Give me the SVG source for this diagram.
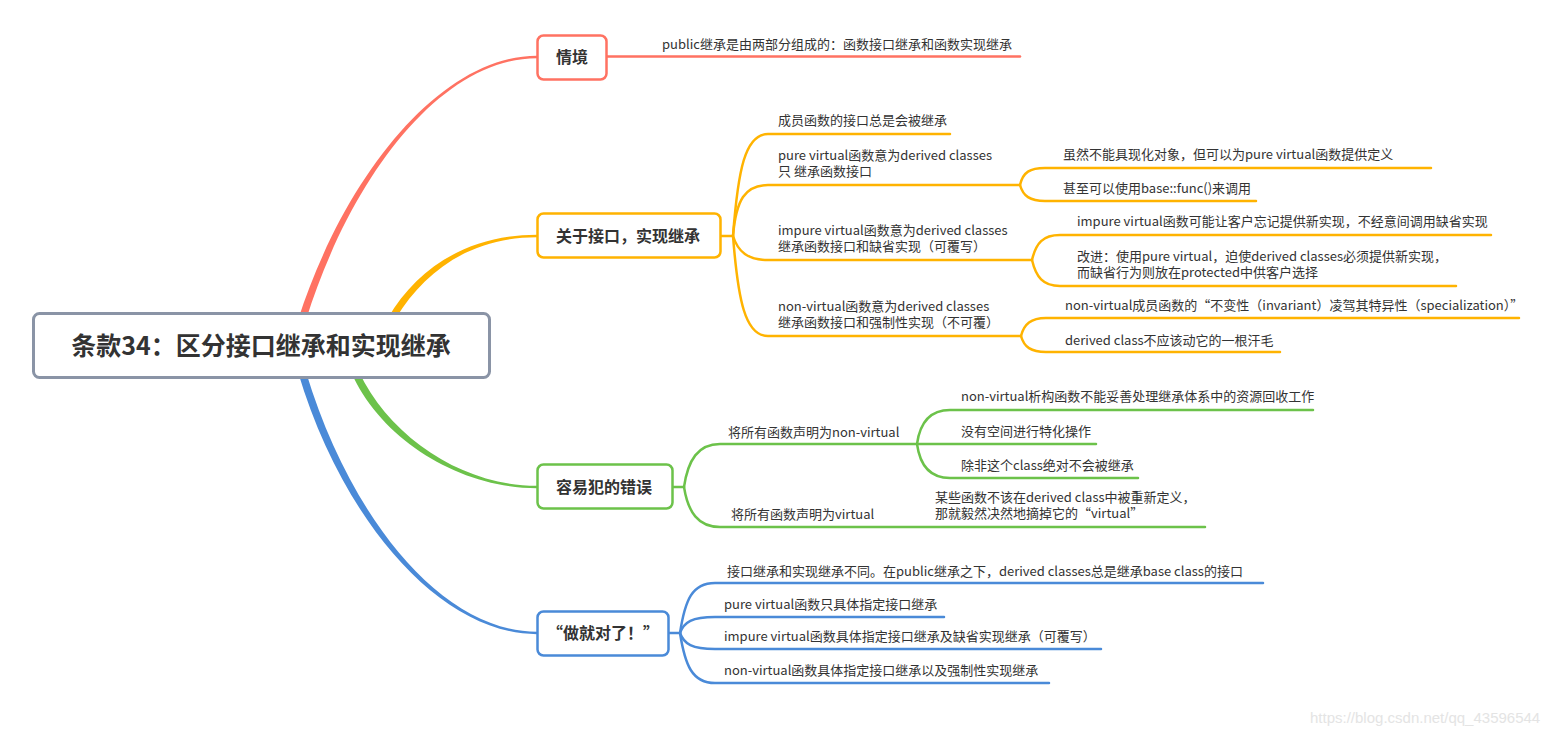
<svg xmlns="http://www.w3.org/2000/svg" width="1563" height="737" viewBox="0 0 1563 737">
<style>
.bg{fill:#ffffff}
.c{fill:none;stroke-width:2.5;stroke-linecap:round;stroke-linejoin:round}
.r{stroke:#ff7262}.y{stroke:#ffb300}.g{stroke:#6cc24a}.b{stroke:#4a8ad8}
.t{font-family:"Noto Sans CJK SC","Noto Sans",sans-serif;font-size:13px;fill:#333333}
.n{font-family:"Noto Sans CJK SC","Noto Sans",sans-serif;font-size:16px;font-weight:bold;fill:#333333;text-anchor:middle}
.box{fill:#ffffff;stroke-width:2.5}
.wm{font-family:"Liberation Sans",Arial,sans-serif;font-size:15px;fill:#e4e4e4}
</style>
<rect class="bg" x="0" y="0" width="1563" height="737"/>
<g id="connectors">
  <!-- main tapered branches -->
  <path fill="#ff7262" d="M298,320 C344,177 440,55.8 537,55.8 L537,58.2 C440,58.2 350,179 306,320 Z"/>
  <path fill="#ffb300" d="M388,318 C417,268 468,234.8 537,234.8 L537,237.2 C470,237.2 424,272 396,318 Z"/>
  <path fill="#6cc24a" d="M351,372 C381,440 460,488.2 537,488.2 L537,485.8 C462,485.8 390,437 359,372 Z"/>
  <path fill="#4a8ad8" d="M298,372 C342,520 440,634.2 537,634.2 L537,631.8 C442,631.8 350,518 306,372 Z"/>
  <!-- red -->
  <path class="c r" d="M607,56.5 L1020,56.5"/>
  <!-- yellow -->
  <path class="c y" d="M721,236 L733,236"/>
  <path class="c y" d="M733,236 C738,170 745,134 768,134 L950,134"/>
  <path class="c y" d="M733,236 C736,200 745,185 768,185 L1020,185"/>
  <path class="c y" d="M733,236 C738,252 748,260 768,260 L1032,260"/>
  <path class="c y" d="M733,236 C738,300 745,336 768,336 L1021,336"/>
  <path class="c y" d="M1020,185 C1023,172 1030,168 1045,168 L1431,168"/>
  <path class="c y" d="M1020,185 C1023,196 1030,201 1045,201 L1256,201"/>
  <path class="c y" d="M1032,260 C1036,243 1043,235 1060,235 L1491,235"/>
  <path class="c y" d="M1032,260 C1036,277 1043,286 1060,286 L1456,286"/>
  <path class="c y" d="M1021,336 C1024,324 1031,318 1046,318 L1519,318"/>
  <path class="c y" d="M1021,336 C1024,347 1031,352 1046,352 L1280,352"/>
  <!-- green -->
  <path class="c g" d="M673,487 L684,487"/>
  <path class="c g" d="M684,487 C688,460 698,444 720,444 L917,444"/>
  <path class="c g" d="M684,487 C688,512 698,527 720,527 L1205,527"/>
  <path class="c g" d="M917,444 C920,422 930,410 950,410 L1313,410"/>
  <path class="c g" d="M917,444 L1096,444"/>
  <path class="c g" d="M917,444 C920,466 930,478 950,478 L1138,478"/>
  <!-- blue -->
  <path class="c b" d="M669,633 L680,633"/>
  <path class="c b" d="M680,633 C685,600 692,583 715,583 L1263,583"/>
  <path class="c b" d="M680,633 C684,622 692,617 715,617 L944,617"/>
  <path class="c b" d="M680,633 C684,644 692,649 715,649 L1101,649"/>
  <path class="c b" d="M680,633 C685,665 692,683 715,683 L1049,683"/>
</g>
<g id="root">
  <rect x="33.5" y="313.5" width="456" height="64" rx="6" fill="#ffffff" stroke="#8a94a6" stroke-width="3"/>
  <text x="261" y="355" font-family="'Noto Sans CJK SC','Noto Sans',sans-serif" font-size="25" font-weight="bold" fill="#333333" text-anchor="middle">条款34：区分接口继承和实现继承</text>
</g>
<g id="n-qingjing">
  <rect class="box" x="537.5" y="35.5" width="69" height="44" rx="6" stroke="#ff7262"/>
  <text class="n" x="572" y="63">情境</text>
</g>
<g id="n-qingjing-1"><text class="t" x="662" y="49">public继承是由两部分组成的：函数接口继承和函数实现继承</text></g>
<g id="n-jiekou">
  <rect class="box" x="537.5" y="213.5" width="183" height="44" rx="6" stroke="#ffb300"/>
  <text class="n" x="628" y="242">关于接口，实现继承</text>
</g>
<g id="n-jk-1"><text class="t" x="778" y="125">成员函数的接口总是会被继承</text></g>
<g id="n-jk-2"><text class="t" x="778" y="160">pure virtual函数意为derived classes</text><text class="t" x="778" y="176">只 继承函数接口</text></g>
<g id="n-jk-2-1"><text class="t" x="1063" y="159">虽然不能具现化对象，但可以为pure virtual函数提供定义</text></g>
<g id="n-jk-2-2"><text class="t" x="1063" y="193">甚至可以使用base::func()来调用</text></g>
<g id="n-jk-3"><text class="t" x="778" y="235">impure virtual函数意为derived classes</text><text class="t" x="778" y="251">继承函数接口和缺省实现（可覆写）</text></g>
<g id="n-jk-3-1"><text class="t" x="1077" y="226">impure virtual函数可能让客户忘记提供新实现，不经意间调用缺省实现</text></g>
<g id="n-jk-3-2"><text class="t" x="1077" y="261">改进：使用pure virtual，迫使derived classes必须提供新实现，</text><text class="t" x="1077" y="277">而缺省行为则放在protected中供客户选择</text></g>
<g id="n-jk-4"><text class="t" x="778" y="311">non-virtual函数意为derived classes</text><text class="t" x="778" y="327">继承函数接口和强制性实现（不可覆）</text></g>
<g id="n-jk-4-1"><text class="t" x="1065" y="310">non-virtual成员函数的“不变性（invariant）凌驾其特异性（specialization）”</text></g>
<g id="n-jk-4-2"><text class="t" x="1065" y="345">derived class不应该动它的一根汗毛</text></g>
<g id="n-cuowu">
  <rect class="box" x="537.5" y="464.5" width="135" height="44" rx="6" stroke="#6cc24a"/>
  <text class="n" x="604" y="493">容易犯的错误</text>
</g>
<g id="n-cw-1"><text class="t" x="728" y="437">将所有函数声明为non-virtual</text></g>
<g id="n-cw-1-1"><text class="t" x="961" y="401">non-virtual析构函数不能妥善处理继承体系中的资源回收工作</text></g>
<g id="n-cw-1-2"><text class="t" x="961" y="436">没有空间进行特化操作</text></g>
<g id="n-cw-1-3"><text class="t" x="961" y="470">除非这个class绝对不会被继承</text></g>
<g id="n-cw-2"><text class="t" x="731" y="519">将所有函数声明为virtual</text></g>
<g id="n-cw-2-1"><text class="t" x="935" y="502">某些函数不该在derived class中被重新定义，</text><text class="t" x="935" y="518">那就毅然决然地摘掉它的“virtual”</text></g>
<g id="n-zuo">
  <rect class="box" x="537.5" y="611.5" width="131" height="44" rx="6" stroke="#4a8ad8"/>
  <text class="n" x="603" y="639">“做就对了！”</text>
</g>
<g id="n-zuo-1"><text class="t" x="727" y="576">接口继承和实现继承不同。在public继承之下，derived classes总是继承base class的接口</text></g>
<g id="n-zuo-2"><text class="t" x="724" y="609">pure virtual函数只具体指定接口继承</text></g>
<g id="n-zuo-3"><text class="t" x="724" y="641">impure virtual函数具体指定接口继承及缺省实现继承（可覆写）</text></g>
<g id="n-zuo-4"><text class="t" x="724" y="675">non-virtual函数具体指定接口继承以及强制性实现继承</text></g>
<text class="wm" x="1310" y="723">https://blog.csdn.net/qq_43596544</text>
</svg>
